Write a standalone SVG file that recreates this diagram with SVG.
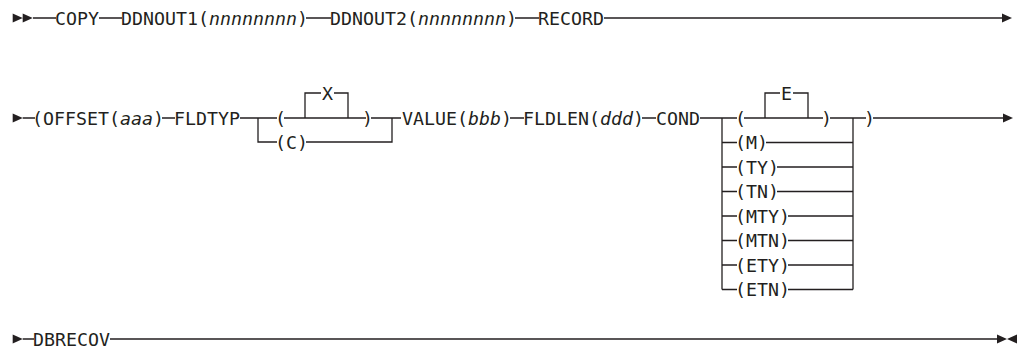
<svg xmlns="http://www.w3.org/2000/svg" width="1024" height="350" viewBox="0 0 1024 350">
<style>
.t { font-family: "DejaVu Sans Mono", "Liberation Mono", monospace; font-size: 18.3px; fill: #231f20; }
.i { font-style: italic; }
.m { text-anchor: middle; }
.l { stroke: #231f20; stroke-width: 1.3; fill: none; }
.a { fill: #231f20; stroke: none; }
</style>
<rect width="1024" height="350" fill="#ffffff"/>
<g id="connectors">
  <!-- row 1 -->
  <path class="a" d="M12.7,13.5 L22.7,18 L12.7,22.5 Z M22.7,13.5 L32.7,18 L22.7,22.5 Z"/>
  <path class="l" d="M33,18 H56 M99,18 H122 M306,18 H331 M515,18 H539 M604,18 H1003"/>
  <path class="a" d="M1002,13.5 L1012,18 L1002,22.5 Z"/>
  <!-- row 2 -->
  <path class="a" d="M12.7,113.5 L22.7,118 L12.7,122.5 Z"/>
  <path class="l" d="M22.7,118 H35 M162,118 H175 M240,118 H277"/>
  <path class="l" d="M258,118 V142 H277"/>
  <path class="l" d="M306,142 H392 V118"/>
  <path class="l" d="M284,118 H366"/>
  <path class="l" d="M305,118 V93 H321 M334,93 H348 V118"/>
  <path class="l" d="M371,118 H401 M510,118 H524 M642,118 H656 M700,118 H737"/>
  <path class="l" d="M722,118 V289.5"/>
  <path class="l" d="M744,118 H823"/>
  <path class="l" d="M765,118 V93 H780 M793,93 H808 V118"/>
  <path class="l" d="M830,118 H866"/>
  <path class="l" d="M853,118 V289.5"/>
  <path class="l" d="M873,118 H1004"/>
  <path class="a" d="M1003,113.5 L1013,118 L1003,122.5 Z"/>
  <path class="l" d="M722,142.5 H737 M766,142.5 H853"/>
  <path class="l" d="M722,167 H737 M777,167 H853"/>
  <path class="l" d="M722,191.5 H737 M777,191.5 H853"/>
  <path class="l" d="M722,216 H737 M788,216 H853"/>
  <path class="l" d="M722,240.5 H737 M788,240.5 H853"/>
  <path class="l" d="M722,265 H737 M788,265 H853"/>
  <path class="l" d="M722,289.5 H737 M788,289.5 H853"/>
  <!-- row 3 -->
  <path class="a" d="M12.7,334.5 L22.7,339 L12.7,343.5 Z"/>
  <path class="l" d="M22.7,339 H34 M110,339 H998"/>
  <path class="a" d="M997,334.5 L1007,339 L997,343.5 Z M1017,334.5 L1007,339 L1017,343.5 Z"/>
</g>
<g id="n-copy"><text class="t" x="55" y="24.6" textLength="44" lengthAdjust="spacingAndGlyphs">COPY</text></g>
<g id="n-ddnout1"><text class="t" x="121" y="24.6" textLength="187" lengthAdjust="spacingAndGlyphs">DDNOUT1(<tspan class="i">nnnnnnnn</tspan>)</text></g>
<g id="n-ddnout2"><text class="t" x="330" y="24.6" textLength="187" lengthAdjust="spacingAndGlyphs">DDNOUT2(<tspan class="i">nnnnnnnn</tspan>)</text></g>
<g id="n-record"><text class="t" x="538" y="24.6" textLength="66" lengthAdjust="spacingAndGlyphs">RECORD</text></g>
<g id="n-offset"><text class="t" x="32" y="124.6" textLength="132" lengthAdjust="spacingAndGlyphs">(OFFSET(<tspan class="i">aaa</tspan>)</text></g>
<g id="n-fldtyp"><text class="t" x="174" y="124.6" textLength="66" lengthAdjust="spacingAndGlyphs">FLDTYP</text></g>
<g id="n-fldtyp-open"><text class="t" x="275" y="124.6">(</text></g>
<g id="n-fldtyp-x"><text class="t m" x="327.5" y="99.6">X</text></g>
<g id="n-fldtyp-close"><text class="t" x="362" y="124.6">)</text></g>
<g id="n-fldtyp-c"><text class="t" x="275" y="148.6" textLength="33" lengthAdjust="spacingAndGlyphs">(C)</text></g>
<g id="n-value"><text class="t" x="402" y="124.6" textLength="110" lengthAdjust="spacingAndGlyphs">VALUE(<tspan class="i">bbb</tspan>)</text></g>
<g id="n-fldlen"><text class="t" x="523" y="124.6" textLength="121" lengthAdjust="spacingAndGlyphs">FLDLEN(<tspan class="i">ddd</tspan>)</text></g>
<g id="n-cond"><text class="t" x="656" y="124.6" textLength="44" lengthAdjust="spacingAndGlyphs">COND</text></g>
<g id="n-cond-open"><text class="t" x="735" y="124.6">(</text></g>
<g id="n-cond-e"><text class="t m" x="786.5" y="99.6">E</text></g>
<g id="n-cond-close"><text class="t" x="821" y="124.6">)</text></g>
<g id="n-offset-close"><text class="t" x="864" y="124.6">)</text></g>
<g id="n-m"><text class="t" x="735" y="149.1" textLength="33" lengthAdjust="spacingAndGlyphs">(M)</text></g>
<g id="n-ty"><text class="t" x="735" y="173.6" textLength="44" lengthAdjust="spacingAndGlyphs">(TY)</text></g>
<g id="n-tn"><text class="t" x="735" y="198.1" textLength="44" lengthAdjust="spacingAndGlyphs">(TN)</text></g>
<g id="n-mty"><text class="t" x="735" y="222.6" textLength="55" lengthAdjust="spacingAndGlyphs">(MTY)</text></g>
<g id="n-mtn"><text class="t" x="735" y="247.1" textLength="55" lengthAdjust="spacingAndGlyphs">(MTN)</text></g>
<g id="n-ety"><text class="t" x="735" y="271.6" textLength="55" lengthAdjust="spacingAndGlyphs">(ETY)</text></g>
<g id="n-etn"><text class="t" x="735" y="296.1" textLength="55" lengthAdjust="spacingAndGlyphs">(ETN)</text></g>
<g id="n-dbrecov"><text class="t" x="33" y="345.6" textLength="77" lengthAdjust="spacingAndGlyphs">DBRECOV</text></g>
</svg>
